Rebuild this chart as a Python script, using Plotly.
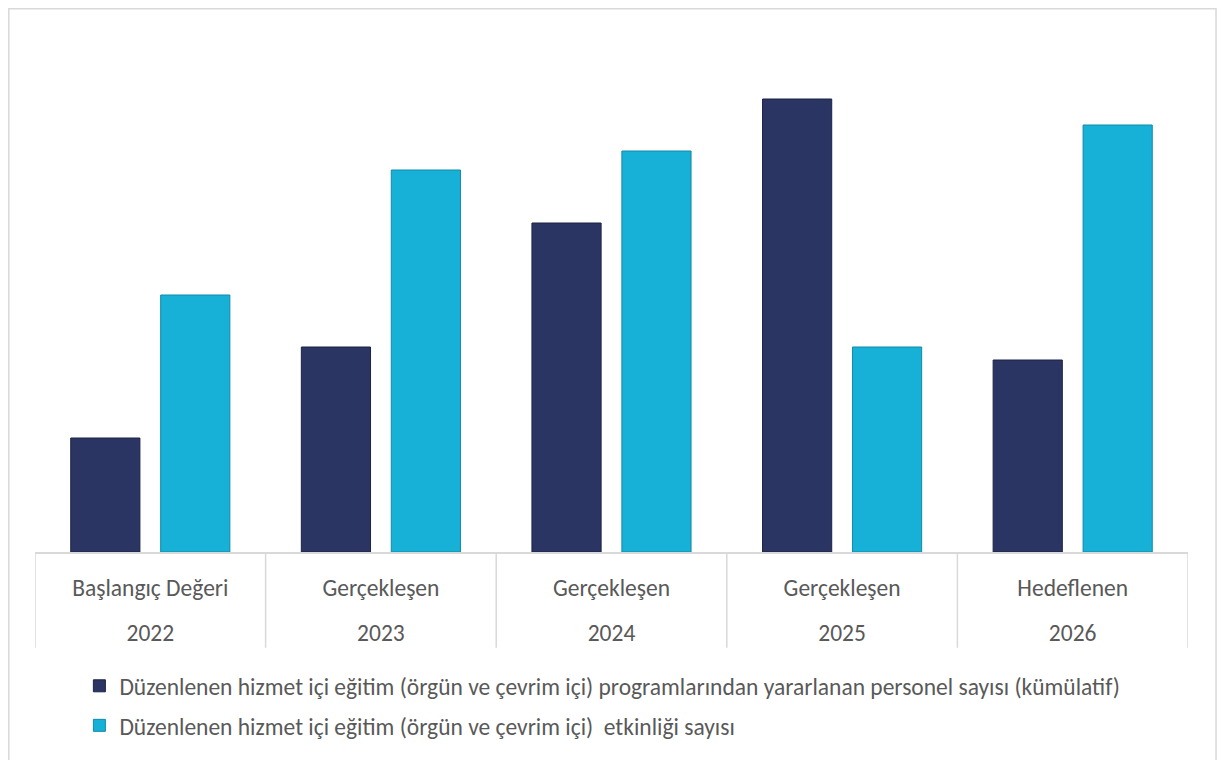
import plotly.graph_objects as go

categories = ["Başlangıç Değeri", "Gerçekleşen", "Gerçekleşen", "Gerçekleşen", "Hedeflenen"]
years = ["2022", "2023", "2024", "2025", "2026"]
series1_name = "Düzenlenen hizmet içi eğitim (örgün ve çevrim içi) programlarından yararlanan personel sayısı (kümülatif)"
series2_name = "Düzenlenen hizmet içi eğitim (örgün ve çevrim içi)  etkinliği sayısı"
series1_values = [114, 205, 329, 453, 192]
series2_values = [257, 382, 401, 205, 427]

dark = "#2b3563"
light = "#17b0d6"
grid = "#d9d9d9"
txt = "#595959"
font_family = "Carlito, Calibri, Lato, sans-serif"
FS = 23.5

xpos = list(range(len(categories)))

fig = go.Figure()
fig.add_trace(go.Bar(
    x=xpos, y=series1_values, name=series1_name, offset=-0.345, width=0.30,
    marker=dict(color=dark, line=dict(color="#1c2344", width=1)),
    legendgroup="a",
))
fig.add_trace(go.Bar(
    x=xpos, y=series2_values, name=series2_name, offset=0.045, width=0.30,
    marker=dict(color=light, line=dict(color="#118aa8", width=1)),
    legendgroup="b",
))
# second x axis carrying the year row
fig.add_trace(go.Scatter(x=xpos, y=[None] * len(xpos), xaxis="x2", showlegend=False,
                         hoverinfo="skip"))

shapes = []
for i in range(len(categories) + 1):
    shapes.append(dict(type="line", xref="x", yref="paper", x0=i - 0.5, x1=i - 0.5,
                       y0=0, y1=-0.187, line=dict(color=grid, width=1.5)))
# outer frame (open at bottom)
shapes.append(dict(type="path", xref="paper", yref="paper",
                   path="M -0.0227,-0.42 L -0.0227,1.0610 L 1.0243,1.0610 L 1.0243,-0.42",
                   line=dict(color=grid, width=1.5)))

fig.update_layout(
    width=1211, height=752,
    margin=dict(l=27, r=31, t=32, b=208),
    paper_bgcolor="white", plot_bgcolor="white",
    font=dict(family=font_family, size=FS, color=txt),
    barmode="overlay",
    showlegend=True,
    legend=dict(orientation="v", x=0.0385, xanchor="left", y=-0.2188, yanchor="top",
                font=dict(size=FS, color=txt), tracegroupgap=6,
                bgcolor="rgba(0,0,0,0)"),
    shapes=shapes,
    xaxis=dict(range=[-0.5, 4.5], tickmode="array", tickvals=xpos, ticktext=categories,
               showline=True, linecolor=grid, linewidth=1.5, ticks="",
               showgrid=False, zeroline=False, fixedrange=True,
               tickfont=dict(size=FS, color=txt), ticklabelstandoff=14),
    xaxis2=dict(range=[-0.5, 4.5], overlaying="x", anchor="y", side="bottom",
                tickmode="array", tickvals=xpos, ticktext=years,
                showline=False, ticks="", showgrid=False, zeroline=False,
                tickfont=dict(size=FS, color=txt), ticklabelstandoff=64),
    yaxis=dict(range=[0, 512], visible=False, showgrid=False, zeroline=False),
)

fig.write_html("out.html")
